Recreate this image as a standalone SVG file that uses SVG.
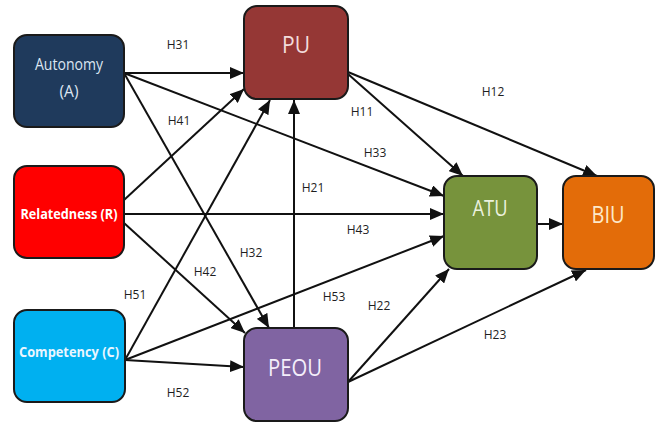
<svg xmlns="http://www.w3.org/2000/svg" width="657" height="423" viewBox="0 0 657 423">
  <defs>
    <marker id="arrow" markerUnits="userSpaceOnUse" markerWidth="15" markerHeight="12" refX="14" refY="6" orient="auto">
      <path d="M0,0 L14,6 L0,12 Z" fill="#111"/>
    </marker>
    <style>
      .box { stroke: #1a1a1a; stroke-width: 2; }
      .edge { stroke: #111; stroke-width: 2; fill: none; marker-end: url(#arrow); }
      .lbl { font-family: "Open Sans", "Liberation Sans", sans-serif; font-size: 12px; fill: #1e1e1e; text-anchor: middle; }
      .title { font-family: "Open Sans", "Liberation Sans", sans-serif; text-anchor: middle; }
    </style>
  </defs>
  <rect width="657" height="423" fill="#ffffff"/>

  <!-- connectors -->
  <g id="connectors">
    <path class="edge" d="M124,73 L244,73"/>
    <path class="edge" d="M124,73 L444,196"/>
    <path class="edge" d="M124,73 L269,328"/>
    <path class="edge" d="M124,200 L244,89"/>
    <path class="edge" d="M124,214 L444,214"/>
    <path class="edge" d="M124,223 L245,333"/>
    <path class="edge" d="M125,360 L270,100"/>
    <path class="edge" d="M125,360 L444,236"/>
    <path class="edge" d="M125,360 L244,367"/>
    <path class="edge" d="M294,328 L294,100"/>
    <path class="edge" d="M348,74 L463,176"/>
    <path class="edge" d="M348,72 L597,176"/>
    <path class="edge" d="M537,224 L563,224"/>
    <path class="edge" d="M348,382 L449,269"/>
    <path class="edge" d="M348,382 L586,270"/>
  </g>

  <!-- hypothesis labels -->
  <g id="labels">
    <text class="lbl" x="178" y="49">H31</text>
    <text class="lbl" x="179" y="125">H41</text>
    <text class="lbl" x="362" y="116">H11</text>
    <text class="lbl" x="493" y="96">H12</text>
    <text class="lbl" x="375" y="157">H33</text>
    <text class="lbl" x="313" y="192">H21</text>
    <text class="lbl" x="358" y="234">H43</text>
    <text class="lbl" x="251" y="257">H32</text>
    <text class="lbl" x="205" y="276">H42</text>
    <text class="lbl" x="135" y="299">H51</text>
    <text class="lbl" x="334" y="301">H53</text>
    <text class="lbl" x="379" y="310">H22</text>
    <text class="lbl" x="495" y="339">H23</text>
    <text class="lbl" x="178" y="397">H52</text>
  </g>

  <g id="autonomy">
    <rect class="box" x="14" y="35" width="110" height="92" rx="13" fill="#1f3a5c"/>
    <text class="title" x="69" y="70" font-size="15.5" fill="#dce6f2" textLength="68" lengthAdjust="spacingAndGlyphs">Autonomy</text>
    <text class="title" x="69" y="97" font-size="15.5" fill="#dce6f2">(A)</text>
  </g>

  <g id="relatedness">
    <rect class="box" x="14" y="166" width="110" height="92" rx="13" fill="#ff0000"/>
    <text class="title" x="69" y="219" font-size="13.5" font-weight="bold" fill="#ffffff" textLength="97" lengthAdjust="spacingAndGlyphs">Relatedness (R)</text>
  </g>

  <g id="competency">
    <rect class="box" x="14" y="310" width="111" height="92" rx="13" fill="#00b0f0"/>
    <text class="title" x="69" y="357" font-size="13.5" font-weight="bold" fill="#eaf6ff" textLength="100" lengthAdjust="spacingAndGlyphs">Competency (C)</text>
  </g>

  <g id="pu">
    <rect class="box" x="244" y="6" width="104" height="93" rx="13" fill="#953735"/>
    <text class="title" x="296" y="53" font-size="24" fill="#f2dcdb" textLength="28" lengthAdjust="spacingAndGlyphs">PU</text>
  </g>

  <g id="peou">
    <rect class="box" x="244" y="328" width="104" height="93" rx="13" fill="#8064a2"/>
    <text class="title" x="295" y="376" font-size="24" fill="#f4eefa" textLength="54" lengthAdjust="spacingAndGlyphs">PEOU</text>
  </g>

  <g id="atu">
    <rect class="box" x="444" y="176" width="93" height="93" rx="13" fill="#77933c"/>
    <text class="title" x="490" y="216" font-size="21" fill="#ebf1de" textLength="35" lengthAdjust="spacingAndGlyphs">ATU</text>
  </g>

  <g id="biu">
    <rect class="box" x="563" y="176" width="91" height="93" rx="13" fill="#e36c09"/>
    <text class="title" x="608" y="223" font-size="24" fill="#fde9c9" textLength="33" lengthAdjust="spacingAndGlyphs">BIU</text>
  </g>
</svg>
